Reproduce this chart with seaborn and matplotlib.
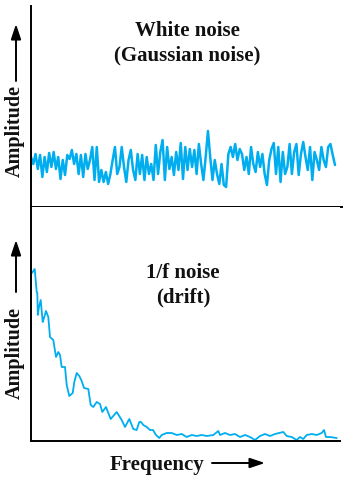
import matplotlib
matplotlib.use("Agg")
import matplotlib.pyplot as plt
from matplotlib.patches import FancyArrowPatch
import numpy as np
import pandas as pd
import seaborn as sns

# white noise amplitude, equally spaced in frequency
white_amp = [
    50, 43, 53, 38, 52, 30, 50, 35, 54, 40, 55, 38, 50, 28, 47, 32, 52, 48, 57, 43,
    53, 33, 52, 30, 53, 38, 47, 60, 27, 60, 25, 37, 25, 35, 23, 33, 47, 60, 33, 40,
    60, 40, 25, 47, 57, 37, 27, 53, 33, 52, 27, 50, 33, 43, 27, 62, 33, 55, 67, 27,
    60, 38, 50, 32, 55, 37, 64, 28, 60, 37, 58, 40, 57, 33, 63, 43, 27, 50, 76, 50,
    27, 47, 33, 23, 43, 22, 20, 53, 60, 50, 63, 47, 58, 53, 37, 50, 33, 60, 43, 35,
    55, 40, 53, 33, 22, 47, 58, 64, 33, 60, 25, 55, 33, 40, 63, 33, 55, 63, 32, 53,
    65, 50, 37, 60, 27, 55, 47, 37, 60, 47, 40, 60, 63, 52, 42,
]

# 1/f noise
drift_freq = [
    1, 3.7, 5.7, 6.3, 6.8, 8, 9.7, 11.7, 13, 15, 17.3, 19, 22.3, 25, 27.3, 29, 30.7, 34,
    35.7, 38.3, 41.7, 43.3, 45.7, 48.3, 50.7, 53, 57.3, 59.7, 62.3, 65.7, 69, 71.3, 75,
    77.3, 79.7, 85.7, 90.7, 94, 98.3, 102.3, 105.7, 108.3, 110, 112.3, 115.7, 119, 122,
    125, 128.3, 130.7, 135.7, 140.7, 145.7, 150.7, 155.7, 160.7, 165.7, 170.7, 175.7,
    182.3, 187.3, 189, 194, 199, 204, 209, 214, 219, 224, 229, 234, 239, 244, 252.3,
    255.7, 260.7, 265.7, 269, 272.3, 275.7, 280.7, 285.7, 290.7, 293, 295, 299, 305.7,
]
drift_amp = [
    168, 172, 149, 148, 126, 134, 141, 119, 123, 130, 124, 104, 101, 84, 89, 86, 74, 74,
    56, 45, 48, 59, 68, 65, 60, 53, 52, 36, 34, 39, 37, 29, 34, 28, 22, 29, 21, 14, 22,
    12, 11, 19, 19, 16, 14, 11, 11, 6, 3, 6, 8, 8, 6, 7, 4, 6, 5, 6, 5, 6, 10, 6, 8, 6,
    7, 4, 6, 4, 1, 5, 7, 5, 7, 9, 5, 4, 1, 4, 2, 6, 7, 6, 8, 11, 4, 4, 3,
]

W, H = 343, 478
LINE = "#00aeef"
SERIF = ["Liberation Serif", "DejaVu Serif"]

sns.set_theme(style="white")
plt.rcParams.update({"font.family": SERIF, "axes.linewidth": 1.4, "axes.edgecolor": "black"})

white = pd.DataFrame({"freq": np.linspace(0, 304, len(white_amp)), "amp": white_amp})
drift = pd.DataFrame({"freq": drift_freq, "amp": drift_amp})


def fx(px):
    return px / W


def fy(py):
    return 1 - py / H


fig = plt.figure(figsize=(W / 100, H / 100), dpi=100)
ax_top = fig.add_axes([fx(31), fy(207), fx(343 - 31), (207 - 6) / H])
ax_bot = fig.add_axes([fx(31), fy(441), fx(340 - 31), (441 - 207) / H])

sns.lineplot(data=white, x="freq", y="amp", ax=ax_top, color=LINE, lw=1.8)
sns.lineplot(data=drift, x="freq", y="amp", ax=ax_bot, color=LINE, lw=1.3, sort=False)

ax_top.set_xlim(0, 312)
ax_top.set_ylim(0, 201)
ax_bot.set_xlim(0, 309)
ax_bot.set_ylim(0, 234)

for ax in (ax_top, ax_bot):
    ax.set_xticks([])
    ax.set_yticks([])
    ax.set_xlabel("")
    ax.set_ylabel("")
    for side in ("top", "right"):
        ax.spines[side].set_visible(False)

txt = dict(fontsize=15, fontweight="bold", color="#111111")
fig.text(fx(187), fy(43), "White noise\n(Gaussian noise)", ha="center", va="center",
         linespacing=1.3, **txt)
fig.text(fx(183), fy(285), "1/f noise\n(drift)", ha="center", va="center",
         linespacing=1.3, **txt)
fig.text(fx(15), fy(131), "Amplitude", rotation=90, ha="center", va="center",
         **{**txt, "fontsize": 14.5})
fig.text(fx(15), fy(353), "Amplitude", rotation=90, ha="center", va="center",
         **{**txt, "fontsize": 14.5})
fig.text(fx(157), fy(465), "Frequency", ha="center", va="center", **txt)

arrow = dict(arrowstyle="-|>,head_length=0.9,head_width=0.3", color="black", lw=1.4,
             mutation_scale=10, shrinkA=0, shrinkB=0, transform=fig.transFigure)
fig.add_artist(FancyArrowPatch((fx(16), fy(81)), (fx(16), fy(24)), **arrow))
fig.add_artist(FancyArrowPatch((fx(16), fy(292)), (fx(16), fy(240)), **arrow))
fig.add_artist(FancyArrowPatch((fx(212), fy(463)), (fx(265), fy(463)), **arrow))

fig.savefig("out.png", dpi=100)
